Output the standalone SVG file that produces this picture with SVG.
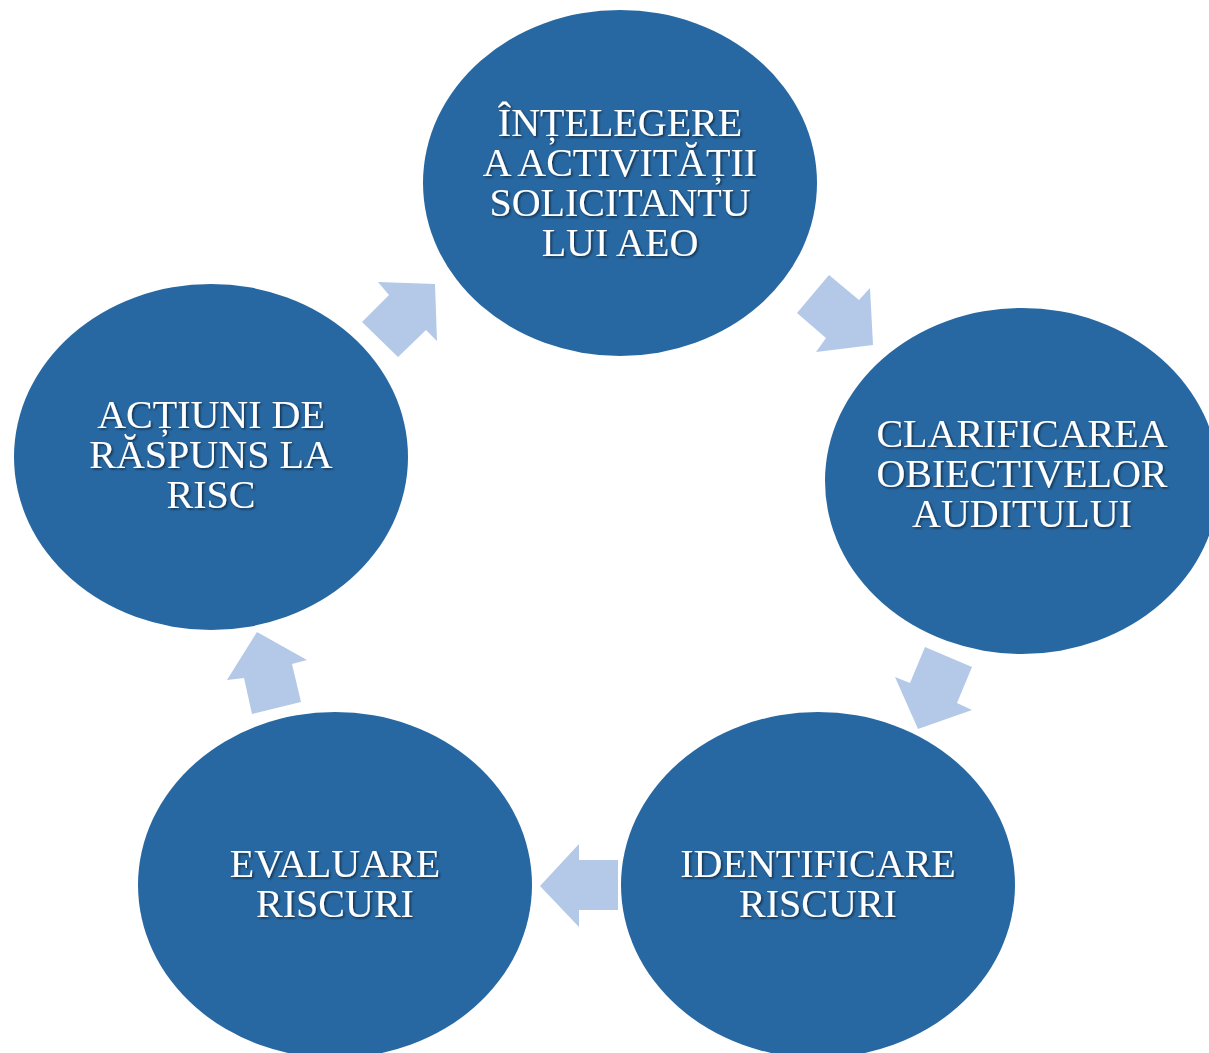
<svg xmlns="http://www.w3.org/2000/svg" width="1209" height="1053" viewBox="0 0 1209 1053">
<defs>
<filter id="sh" x="-10%" y="-10%" width="120%" height="130%">
<feDropShadow dx="1.5" dy="1.5" stdDeviation="1" flood-color="#000" flood-opacity="0.55"/>
</filter>
<style>
.node{fill:#2868a2}
.lbl{font-family:"Liberation Serif","Times New Roman",serif;font-size:40px;fill:#fff;text-anchor:middle;filter:url(#sh)}
.arr{fill:#b4c8e7}
</style>
</defs>
<rect width="1209" height="1053" fill="#fff"/>
<g id="connectors">
<polygon class="arr" points="378,282 435,284 437,341 426,330 398,357 362,322 389,295"/>
<polygon class="arr" points="829,275 859,300 870,288 873,345 816,352 826,338 797,313"/>
<polygon class="arr" points="925,647 972,667 957,703 972,710 918,729 895,677 910,683"/>
<polygon class="arr" points="540,886 579,844 579,860 618,860 618,910 579,910 579,927"/>
<polygon class="arr" points="257,632 307,660 292,664 301,702 252,714 244,678 227,680"/>
</g>
<g id="node-intelegere">
<ellipse class="node" cx="620" cy="183" rx="197" ry="173"/>
<text class="lbl" x="620" y="136">ÎNȚELEGERE</text>
<text class="lbl" x="620" y="176">A ACTIVITĂȚII</text>
<text class="lbl" x="620" y="216">SOLICITANTU</text>
<text class="lbl" x="620" y="256">LUI AEO</text>
</g>
<g id="node-clarificarea">
<ellipse class="node" cx="1022" cy="481" rx="197" ry="173"/>
<text class="lbl" x="1022" y="447">CLARIFICAREA</text>
<text class="lbl" x="1022" y="487">OBIECTIVELOR</text>
<text class="lbl" x="1022" y="527">AUDITULUI</text>
</g>
<g id="node-identificare">
<ellipse class="node" cx="818" cy="885" rx="197" ry="173"/>
<text class="lbl" x="818" y="877">IDENTIFICARE</text>
<text class="lbl" x="818" y="917">RISCURI</text>
</g>
<g id="node-evaluare">
<ellipse class="node" cx="335" cy="885" rx="197" ry="173"/>
<text class="lbl" x="335" y="877">EVALUARE</text>
<text class="lbl" x="335" y="917">RISCURI</text>
</g>
<g id="node-actiuni">
<ellipse class="node" cx="211" cy="457" rx="197" ry="173"/>
<text class="lbl" x="211" y="428">ACȚIUNI DE</text>
<text class="lbl" x="211" y="468">RĂSPUNS LA</text>
<text class="lbl" x="211" y="508">RISC</text>
</g>
</svg>
